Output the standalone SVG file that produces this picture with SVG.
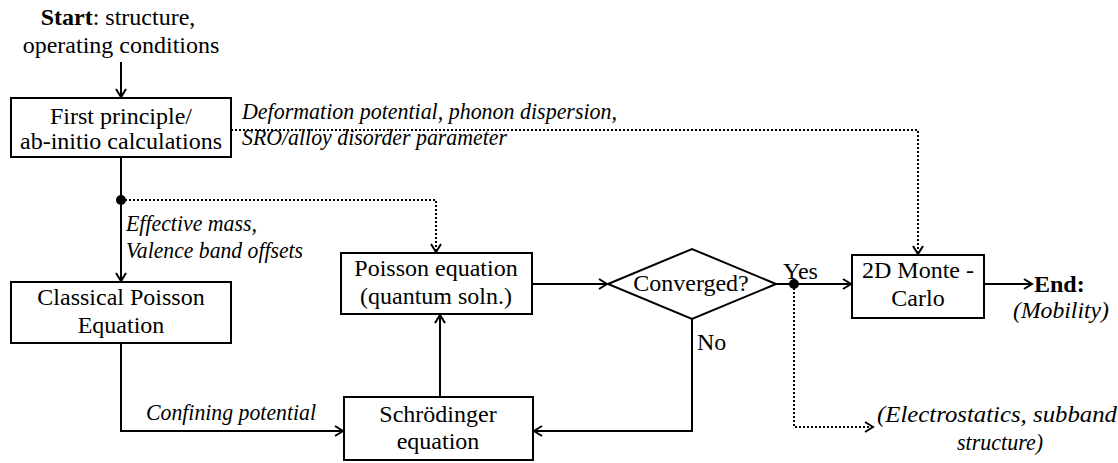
<svg xmlns="http://www.w3.org/2000/svg" width="1118" height="463" viewBox="0 0 1118 463">
  <style>
    .label { font-family: 'Liberation Serif', serif; font-size: 24px; fill: #000; }
    .emph { font-style: italic; }
    .strong { font-weight: bold; }
    .box { fill: #fff; stroke: #000; stroke-width: 2; }
    .ln { fill: none; stroke: #000; stroke-width: 2; }
    .dot { fill: none; stroke: #000; stroke-width: 2; stroke-dasharray: 2 2; }
  </style>
  <defs>
    <marker id="arr" markerWidth="12" markerHeight="12" refX="10" refY="6" orient="auto" markerUnits="userSpaceOnUse">
      <path d="M2,1 L10,6 L2,11" fill="none" stroke="#000" stroke-width="2"/>
    </marker>
  </defs>
  <rect width="1118" height="463" fill="#fff"/>

  <!-- connectors -->
  <g id="connectors">
    <line class="ln" x1="121" y1="62" x2="121" y2="97" marker-end="url(#arr)"/>
    <line class="ln" x1="121" y1="157" x2="121" y2="281" marker-end="url(#arr)"/>
    <circle cx="121" cy="200" r="5" fill="#000"/>
    <polyline class="dot" points="121,200 436,200 436,252" marker-end="url(#arr)"/>
    <polyline class="dot" points="231,130 918,130 918,254" marker-end="url(#arr)"/>
    <polyline class="ln" points="121,343 121,431 343,431" marker-end="url(#arr)"/>
    <line class="ln" x1="440" y1="397" x2="440" y2="315" marker-end="url(#arr)"/>
    <line class="ln" x1="532" y1="284" x2="607" y2="284" marker-end="url(#arr)"/>
    <line class="ln" x1="776" y1="284" x2="851" y2="284" marker-end="url(#arr)"/>
    <circle cx="794" cy="284" r="5" fill="#000"/>
    <polyline class="ln" points="692,319 692,431 534,431" marker-end="url(#arr)"/>
    <polyline class="dot" points="794,284 794,427 873,427" marker-end="url(#arr)"/>
    <line class="ln" x1="984" y1="284" x2="1032" y2="284" marker-end="url(#arr)"/>
  </g>

  <!-- start label -->
  <g id="start">
    <text class="label" x="118" y="25" text-anchor="middle"><tspan class="strong">Start</tspan>: structure,</text>
    <text class="label" x="121" y="53" text-anchor="middle">operating conditions</text>
  </g>

  <g id="first-principle">
    <rect class="box" x="11" y="98" width="220" height="59"/>
    <text class="label" x="121" y="124" text-anchor="middle">First principle/</text>
    <text class="label" x="121" y="149" text-anchor="middle">ab-initio calculations</text>
  </g>

  <g id="classical-poisson">
    <rect class="box" x="11" y="282" width="220" height="61"/>
    <text class="label" x="121" y="305" text-anchor="middle">Classical Poisson</text>
    <text class="label" x="121" y="333" text-anchor="middle">Equation</text>
  </g>

  <g id="poisson-quantum">
    <rect class="box" x="341" y="253" width="191" height="61"/>
    <text class="label" x="436" y="276" text-anchor="middle">Poisson equation</text>
    <text class="label" x="436" y="304" text-anchor="middle">(quantum soln.)</text>
  </g>

  <g id="schrodinger">
    <rect class="box" x="344" y="397" width="189" height="63"/>
    <text class="label" x="438" y="422" text-anchor="middle">Schrödinger</text>
    <text class="label" x="438" y="449" text-anchor="middle">equation</text>
  </g>

  <g id="converged">
    <polygon class="box" points="608,284 692,249 776,284 692,319"/>
    <text class="label" x="691" y="291" text-anchor="middle">Converged?</text>
  </g>

  <g id="monte-carlo">
    <rect class="box" x="852" y="255" width="132" height="63"/>
    <text class="label" x="918" y="278" text-anchor="middle">2D Monte -</text>
    <text class="label" x="918" y="306" text-anchor="middle">Carlo</text>
  </g>

  <g id="end">
    <text class="label strong" x="1034" y="292">End:</text>
    <text class="label emph" x="1013" y="318" textLength="96" lengthAdjust="spacingAndGlyphs">(Mobility)</text>
  </g>

  <!-- edge labels -->
  <g id="labels">
    <text class="label emph" x="242" y="119" textLength="375" lengthAdjust="spacingAndGlyphs">Deformation potential, phonon dispersion,</text>
    <text class="label emph" x="242" y="145" textLength="265" lengthAdjust="spacingAndGlyphs">SRO/alloy disorder parameter</text>
    <text class="label emph" x="126" y="231" textLength="131" lengthAdjust="spacingAndGlyphs">Effective mass,</text>
    <text class="label emph" x="126" y="258" textLength="177" lengthAdjust="spacingAndGlyphs">Valence band offsets</text>
    <text class="label emph" x="146" y="420" textLength="170" lengthAdjust="spacingAndGlyphs">Confining potential</text>
    <text class="label" x="783" y="279">Yes</text>
    <text class="label" x="697" y="350">No</text>
    <text class="label emph" x="877" y="422" textLength="240" lengthAdjust="spacingAndGlyphs">(Electrostatics, subband</text>
    <text class="label emph" x="957" y="450" textLength="86" lengthAdjust="spacingAndGlyphs">structure)</text>
  </g>
</svg>
